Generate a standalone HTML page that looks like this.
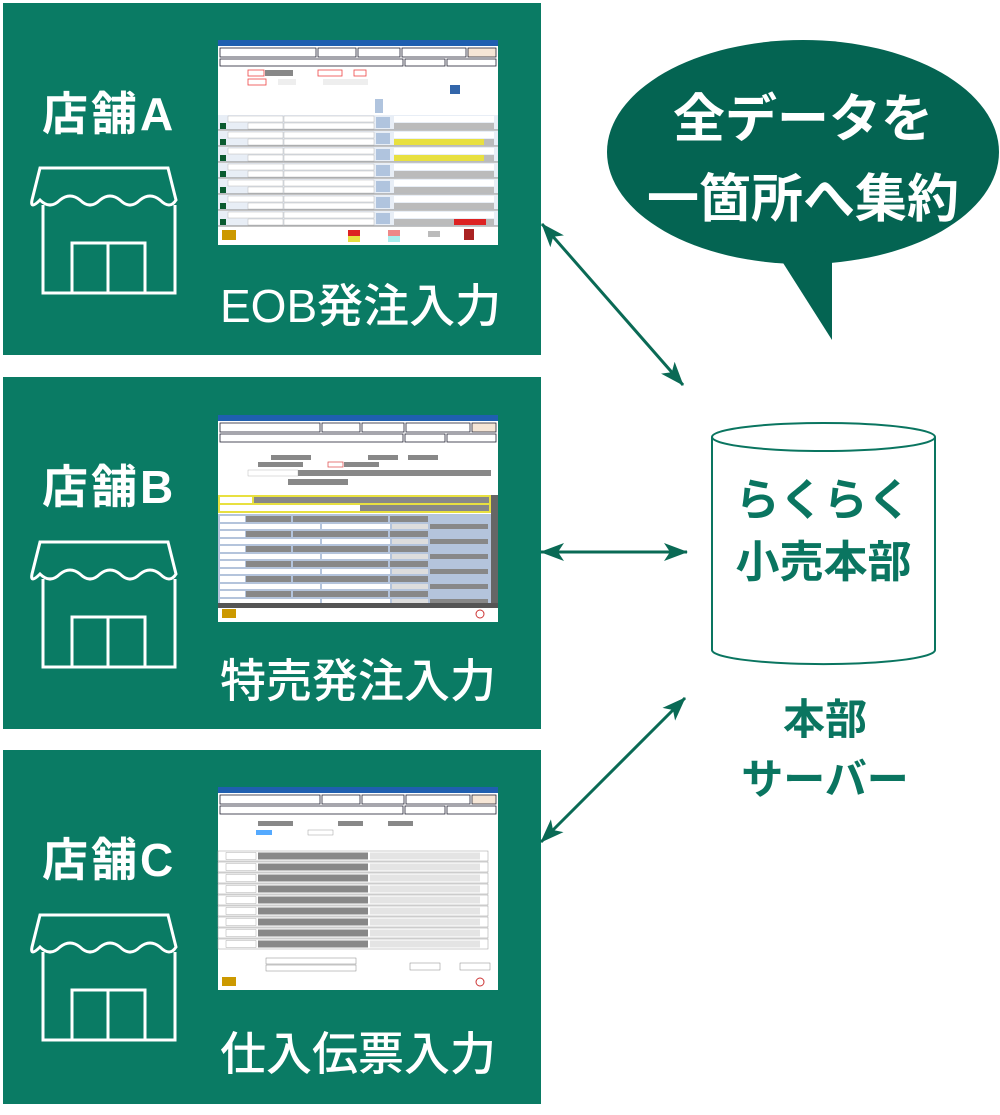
<!DOCTYPE html>
<html><head><meta charset="utf-8"><style>
body{margin:0;width:1000px;height:1115px;background:#fff;position:relative;overflow:hidden;font-family:"Liberation Sans","Noto Sans CJK JP",sans-serif}
.p{position:absolute;left:3px;width:538px;background:#0a7b64}
.t{position:absolute;color:#fff;font-weight:bold;white-space:nowrap}
.g{position:absolute;color:#0a7560;font-weight:bold;white-space:nowrap;text-align:center}
svg{position:absolute}
</style></head><body>
<div class="p" style="top:3px;height:352px"></div>
<div class="p" style="top:377px;height:352px"></div>
<div class="p" style="top:750px;height:354px"></div>

<div class="t" style="left:42px;top:78px;font-size:46px;letter-spacing:3px">店舗A</div>
<div class="t" style="left:42px;top:451px;font-size:46px;letter-spacing:3px">店舗B</div>
<div class="t" style="left:42px;top:824px;font-size:46px;letter-spacing:3px">店舗C</div>
<div class="t" style="left:220px;top:270px;font-size:46px;font-weight:500">EOB発注入力</div>
<div class="t" style="left:220px;top:645px;font-size:46px;font-weight:500">特売発注入力</div>
<div class="t" style="left:220px;top:1018px;font-size:46px;font-weight:500">仕入伝票入力</div>

<svg width="1000" height="1115" style="left:0;top:0">
<defs>
<g id="store" fill="none" stroke="#fff" stroke-width="3">
<path d="M40,168 L168,168 L176,200 Q170,210 160,200 Q150,192 140,200 Q130,210 120,200 Q110,192 100,200 Q90,210 80,200 Q70,192 60,200 Q50,210 40,200 Q30,210 32,200 Z"/>
<path d="M43,205 L43,293 L175,293 L175,205"/>
<path d="M72,293 L72,243 L145,243 L145,293 M108,243 L108,293"/>
</g>
<marker id="ah" markerWidth="24" markerHeight="18" refX="23" refY="9" orient="auto-start-reverse" markerUnits="userSpaceOnUse"><path d="M0,0 L24,9 L0,18 L6,9 Z" fill="#0a6a55"/></marker>
<g id="rowA">
<rect x="0" y="0" width="280" height="15" fill="#e8eef6"/>
<rect x="10" y="1" width="55" height="6" fill="#fff" stroke="#aaa" stroke-width=".4"/>
<rect x="66" y="1" width="90" height="6" fill="#fff" stroke="#aaa" stroke-width=".4"/>
<rect x="30" y="8" width="35" height="6" fill="#fff" stroke="#aaa" stroke-width=".4"/>
<rect x="66" y="8" width="90" height="6" fill="#fff" stroke="#aaa" stroke-width=".4"/>
<rect x="2" y="8" width="6" height="6" fill="#0a5a30"/>
<rect x="158" y="2" width="14" height="11" fill="#b0c4de"/>
<rect x="176" y="1" width="100" height="6" fill="#fff"/>
<rect x="176" y="8" width="100" height="6" fill="#bbb"/>
<line x1="0" y1="15" x2="280" y2="15" stroke="#888" stroke-width="1"/>
</g>
<g id="rowB">
<rect x="0" y="0" width="273" height="18" fill="#b4c4dc"/>
<rect x="2" y="2" width="25" height="6" fill="#fff"/>
<rect x="28" y="2" width="45" height="6" fill="#888"/>
<rect x="75" y="2" width="95" height="6" fill="#888"/>
<rect x="172" y="2" width="38" height="6" fill="#888"/>
<rect x="2" y="10" width="100" height="6" fill="#fff"/>
<rect x="104" y="10" width="68" height="6" fill="#fff"/>
<rect x="174" y="10" width="36" height="6" fill="#ddd"/>
<rect x="212" y="10" width="58" height="6" fill="#888"/>
</g>
<g id="rowC">
<rect x="0" y="0" width="270" height="10" fill="#fff" stroke="#999" stroke-width=".5"/>
<rect x="8" y="1.5" width="30" height="7" fill="#fff" stroke="#999" stroke-width=".4"/>
<rect x="40" y="1.5" width="110" height="7" fill="#888"/>
<rect x="152" y="1.5" width="110" height="7" fill="#e4e4e4"/>
</g>
</defs>

<use href="#store"/>
<use href="#store" y="374"/>
<use href="#store" y="747"/>

<!-- speech bubble -->
<ellipse cx="803" cy="152" rx="196" ry="112" fill="#046452"/>
<path d="M778,255 L832,340 L832,250 Z" fill="#046452"/>

<!-- arrows -->
<g stroke="#0a6a55" stroke-width="3" marker-start="url(#ah)" marker-end="url(#ah)">
<line x1="542" y1="224" x2="683" y2="385"/>
<line x1="541" y1="552" x2="687" y2="552"/>
<line x1="685" y1="698" x2="541" y2="842"/>
</g>

<!-- cylinder -->
<path d="M712,437 L712,650 A111,14 0 0 0 935,650 L935,437" fill="#fff" stroke="#0a7560" stroke-width="2"/>
<ellipse cx="823.5" cy="437" rx="111.5" ry="14" fill="#fff" stroke="#0a7560" stroke-width="2"/>

<!-- screenshot A -->
<g transform="translate(218,40)">
<rect width="280" height="205" fill="#fff"/>
<rect width="280" height="6" fill="#1f5fb0"/>
<rect x="2" y="8" width="96" height="9" fill="#fff" stroke="#223" stroke-width=".8"/>
<rect x="100" y="8" width="38" height="9" fill="#fff" stroke="#223" stroke-width=".8"/>
<rect x="140" y="8" width="42" height="9" fill="#fff" stroke="#223" stroke-width=".8"/>
<rect x="184" y="8" width="64" height="9" fill="#fff" stroke="#223" stroke-width=".8"/>
<rect x="250" y="8" width="28" height="9" fill="#f6e6d6" stroke="#223" stroke-width=".8"/>
<rect x="2" y="19" width="183" height="7" fill="#fff" stroke="#223" stroke-width=".8"/>
<rect x="187" y="19" width="40" height="7" fill="#fff" stroke="#223" stroke-width=".8"/>
<rect x="229" y="19" width="49" height="7" fill="#fff" stroke="#223" stroke-width=".8"/>
<rect x="30" y="30" width="16" height="6" fill="#fff" stroke="#e44" stroke-width=".8"/>
<rect x="47" y="30" width="28" height="6" fill="#888"/>
<rect x="100" y="30" width="24" height="6" fill="#fff" stroke="#e44" stroke-width=".8"/>
<rect x="136" y="30" width="12" height="6" fill="#fff" stroke="#e44" stroke-width=".8"/>
<rect x="30" y="39" width="18" height="6" fill="#fff" stroke="#e44" stroke-width=".8"/>
<rect x="60" y="39" width="18" height="6" fill="#eee"/>
<rect x="105" y="39" width="45" height="6" fill="#eee"/>
<rect x="232" y="45" width="10" height="9" fill="#36a"/>
<rect x="0" y="59" width="280" height="16" fill="#fff"/>
<rect x="157" y="59" width="8" height="14" fill="#b0c4de"/>
<use href="#rowA" y="75"/><use href="#rowA" y="91"/><use href="#rowA" y="107"/><use href="#rowA" y="123"/>
<use href="#rowA" y="139"/><use href="#rowA" y="155"/><use href="#rowA" y="171"/>
<rect x="176" y="99" width="90" height="6" fill="#e8e040"/>
<rect x="176" y="115" width="90" height="6" fill="#e8e040"/>
<rect x="236" y="179" width="32" height="6" fill="#d22"/>
<rect x="0" y="187" width="280" height="18" fill="#fff"/>
<rect x="130" y="190" width="12" height="6" fill="#d22"/><rect x="130" y="196" width="12" height="6" fill="#e8e040"/>
<rect x="170" y="190" width="12" height="6" fill="#e88"/><rect x="170" y="196" width="12" height="6" fill="#aee"/>
<rect x="210" y="191" width="12" height="6" fill="#bbb"/>
<rect x="4" y="190" width="14" height="10" fill="#c90"/><rect x="246" y="189" width="10" height="11" fill="#a22"/>
</g>

<!-- screenshot B -->
<g transform="translate(218,415)">
<rect width="280" height="207" fill="#fff"/>
<rect width="280" height="6" fill="#1f5fb0"/>
<rect x="2" y="8" width="100" height="9" fill="#fff" stroke="#223" stroke-width=".8"/>
<rect x="104" y="8" width="38" height="9" fill="#fff" stroke="#223" stroke-width=".8"/>
<rect x="144" y="8" width="42" height="9" fill="#fff" stroke="#223" stroke-width=".8"/>
<rect x="188" y="8" width="64" height="9" fill="#fff" stroke="#223" stroke-width=".8"/>
<rect x="254" y="8" width="24" height="9" fill="#f6e6d6" stroke="#223" stroke-width=".8"/>
<rect x="2" y="19" width="183" height="8" fill="#fff" stroke="#223" stroke-width=".8"/>
<rect x="187" y="19" width="40" height="8" fill="#fff" stroke="#223" stroke-width=".8"/>
<rect x="229" y="19" width="49" height="8" fill="#fff" stroke="#223" stroke-width=".8"/>
<rect x="53" y="40" width="40" height="5" fill="#888"/><rect x="150" y="40" width="30" height="5" fill="#888"/><rect x="190" y="40" width="30" height="5" fill="#888"/>
<rect x="40" y="47" width="45" height="5" fill="#888"/><rect x="110" y="47" width="15" height="5" fill="#fff" stroke="#d44" stroke-width=".7"/><rect x="126" y="47" width="35" height="5" fill="#888"/>
<rect x="30" y="55" width="50" height="6" fill="#fff" stroke="#aaa" stroke-width=".4"/><rect x="80" y="55" width="193" height="6" fill="#888"/>
<rect x="70" y="64" width="60" height="6" fill="#888"/>
<rect x="0" y="80" width="273" height="18" fill="#e8e040"/>
<rect x="2" y="82" width="32" height="6" fill="#fff"/><rect x="36" y="82" width="235" height="6" fill="#888"/>
<rect x="2" y="90" width="140" height="6" fill="#fff"/><rect x="142" y="90" width="129" height="6" fill="#888"/>
<use href="#rowB" y="99"/><use href="#rowB" y="114"/><use href="#rowB" y="129"/><use href="#rowB" y="144"/><use href="#rowB" y="159"/><use href="#rowB" y="174"/>
<rect x="273" y="80" width="7" height="108" fill="#666"/>
<rect x="0" y="188" width="280" height="5" fill="#555"/>
<rect x="4" y="194" width="14" height="9" fill="#c90"/><circle cx="262" cy="199" r="4" fill="none" stroke="#c33"/>
</g>

<!-- screenshot C -->
<g transform="translate(218,787)">
<rect width="280" height="203" fill="#fff"/>
<rect width="280" height="6" fill="#1f5fb0"/>
<rect x="2" y="8" width="100" height="9" fill="#fff" stroke="#223" stroke-width=".8"/>
<rect x="104" y="8" width="38" height="9" fill="#fff" stroke="#223" stroke-width=".8"/>
<rect x="144" y="8" width="42" height="9" fill="#fff" stroke="#223" stroke-width=".8"/>
<rect x="188" y="8" width="64" height="9" fill="#fff" stroke="#223" stroke-width=".8"/>
<rect x="254" y="8" width="24" height="9" fill="#f6e6d6" stroke="#223" stroke-width=".8"/>
<rect x="2" y="19" width="183" height="8" fill="#fff" stroke="#223" stroke-width=".8"/>
<rect x="187" y="19" width="40" height="8" fill="#fff" stroke="#223" stroke-width=".8"/>
<rect x="229" y="19" width="49" height="8" fill="#fff" stroke="#223" stroke-width=".8"/>
<rect x="40" y="34" width="35" height="5" fill="#888"/><rect x="120" y="34" width="25" height="5" fill="#888"/><rect x="170" y="34" width="25" height="5" fill="#888"/>
<rect x="38" y="43" width="16" height="5" fill="#5af"/><rect x="90" y="43" width="25" height="5" fill="#fff" stroke="#888" stroke-width=".4"/>
<use href="#rowC" y="64"/><use href="#rowC" y="75"/><use href="#rowC" y="86"/><use href="#rowC" y="97"/><use href="#rowC" y="108"/>
<use href="#rowC" y="119"/><use href="#rowC" y="130"/><use href="#rowC" y="141"/><use href="#rowC" y="152"/>
<rect x="48" y="171" width="90" height="6" fill="#fff" stroke="#888" stroke-width=".5"/>
<rect x="48" y="178" width="90" height="6" fill="#fff" stroke="#888" stroke-width=".5"/>
<rect x="192" y="176" width="30" height="7" fill="#fff" stroke="#888" stroke-width=".5"/>
<rect x="242" y="176" width="30" height="7" fill="#fff" stroke="#888" stroke-width=".5"/>
<rect x="4" y="190" width="14" height="9" fill="#c90"/><circle cx="262" cy="195" r="4" fill="none" stroke="#c33"/>
</g>
</svg>

<div class="t" style="left:607px;top:80px;width:392px;text-align:center;font-size:52px;line-height:80px">全データを<br>一箇所へ集約</div>
<div class="g" style="left:712px;top:470px;width:223px;font-size:44px;line-height:62px">らくらく<br>小売本部</div>
<div class="g" style="left:700px;top:690px;width:250px;font-size:42px;line-height:60px">本部<br>サーバー</div>
</body></html>
